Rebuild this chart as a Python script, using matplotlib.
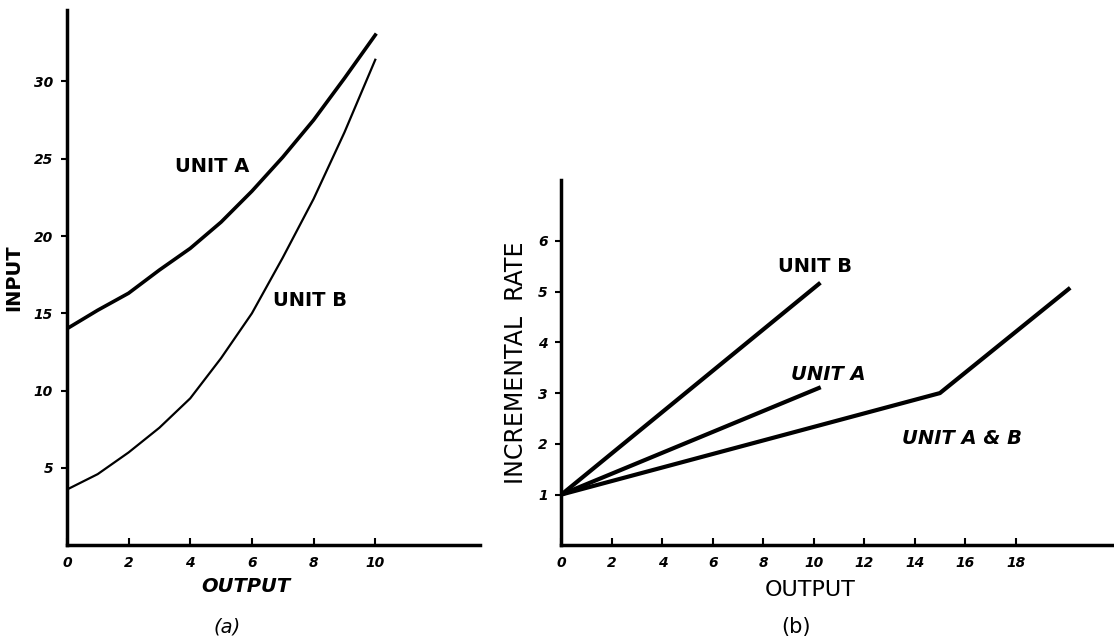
import matplotlib.pyplot as plt

# panel (a): input-output curves
output_a = [0, 1, 2, 3, 4, 5, 6, 7, 8, 9, 10]
unit_a_input = [14.0, 15.2, 16.3, 17.8, 19.2, 20.9, 22.9, 25.1, 27.5, 30.2, 33.0]
unit_b_input = [3.6, 4.6, 6.0, 7.6, 9.5, 12.1, 15.0, 18.6, 22.4, 26.7, 31.4]
xticks_a = [0, 2, 4, 6, 8, 10]
yticks_a = [5, 10, 15, 20, 25, 30]

# panel (b): incremental rate lines
unit_b_out = [0, 10.2]
unit_b_rate = [1, 5.15]
unit_a_out = [0, 10.2]
unit_a_rate = [1, 3.1]
unit_ab_out = [0, 15.0, 20.1]
unit_ab_rate = [1, 3.0, 5.05]
xticks_b = [0, 2, 4, 6, 8, 10, 12, 14, 16, 18]
yticks_b = [1, 2, 3, 4, 5, 6]

fig = plt.figure(figsize=(11.14, 6.43), dpi=100)
lab = dict(fontweight="bold", fontsize=14, family="DejaVu Sans")
tck = dict(fontweight="bold", fontstyle="italic", fontsize=10)

def style(ax):
    for s in ["top", "right"]:
        ax.spines[s].set_visible(False)
    for s in ["left", "bottom"]:
        ax.spines[s].set_linewidth(2.5)
    ax.tick_params(axis="x", direction="in", length=5, width=1.5, pad=8)
    ax.tick_params(axis="y", direction="out", length=4, width=1.5, pad=6)

ax1 = fig.add_axes([0.060, 0.152, 0.371, 0.832])
ax1.plot(output_a, unit_a_input, color="black", lw=2.6, solid_joinstyle="round")
ax1.plot(output_a, unit_b_input, color="black", lw=1.6, solid_joinstyle="round")
ax1.set_xlim(0, 13.4)
ax1.set_ylim(0, 34.6)
ax1.set_xticks(xticks_a)
ax1.set_yticks(yticks_a)
ax1.set_xticklabels([str(v) for v in xticks_a], **tck)
ax1.set_yticklabels([str(v) for v in yticks_a], **tck)
style(ax1)
ax1.text(3.5, 24.5, "UNIT A", va="center", **lab)
ax1.text(6.7, 15.8, "UNIT B", va="center", **lab)
ax1.set_ylabel("INPUT", labelpad=10, **lab)
ax1.yaxis.set_label_coords(-0.105, 0.5)
ax1.set_xlabel("OUTPUT", labelpad=4, fontstyle="italic", **lab)
ax1.xaxis.set_label_coords(10.0 / 13.4 * 0.58, -0.06)
fig.text(227 / 1114, 1 - 627 / 643, "(a)", ha="center", va="center",
         fontsize=14, fontstyle="italic")

ax2 = fig.add_axes([0.504, 0.152, 0.496, 0.568])
ax2.plot(unit_b_out, unit_b_rate, color="black", lw=3)
ax2.plot(unit_a_out, unit_a_rate, color="black", lw=3)
ax2.plot(unit_ab_out, unit_ab_rate, color="black", lw=3, solid_joinstyle="round")
ax2.set_xlim(0, 21.9)
ax2.set_ylim(0, 7.2)
ax2.set_xticks(xticks_b)
ax2.set_yticks(yticks_b)
ax2.set_xticklabels([str(v) for v in xticks_b], **tck)
ax2.set_yticklabels([str(v) for v in yticks_b], **tck)
style(ax2)
ax2.text(8.6, 5.5, "UNIT B", va="center", **lab)
ax2.text(9.1, 3.36, "UNIT A", va="center", fontstyle="italic", **lab)
ax2.text(13.5, 2.1, "UNIT A & B", va="center", fontstyle="italic", **lab)
ax2.set_ylabel("INCREMENTAL  RATE", fontsize=17, family="DejaVu Sans")
ax2.yaxis.set_label_coords(-0.06, 0.5)
ax2.set_xlabel("OUTPUT", fontsize=16, family="DejaVu Sans")
ax2.xaxis.set_label_coords(0.45, -0.095)
fig.text(796 / 1114, 1 - 627 / 643, "(b)", ha="center", va="center", fontsize=15)

fig.savefig("out.png", dpi=100)
